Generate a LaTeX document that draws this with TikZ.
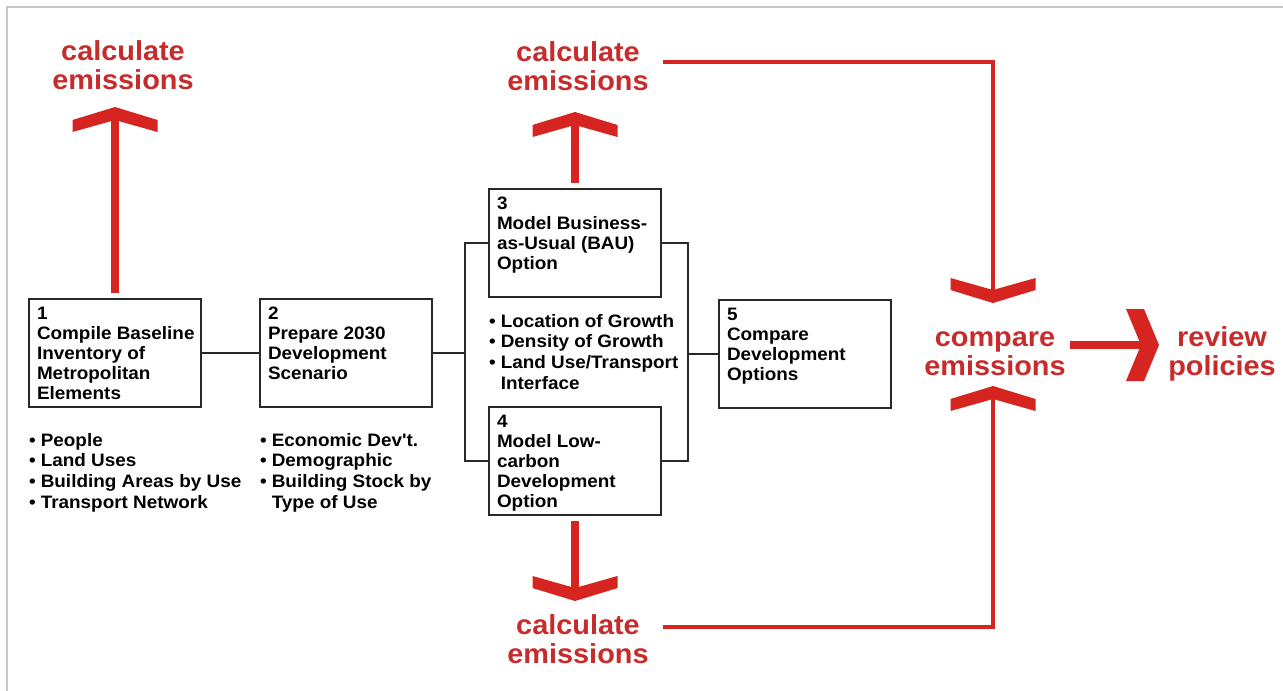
\documentclass[tikz,border=0pt]{standalone}
\usepackage{fontspec}
\newfontfamily\dfont{Liberation Sans}[FakeStretch=1.05]
\definecolor{arrowred}{RGB}{214,36,32}
\definecolor{textred}{RGB}{198,44,44}
\definecolor{boxline}{RGB}{40,40,40}
\definecolor{framegray}{RGB}{200,200,200}
\newcommand\bline[1]{\hbox to 156pt{#1\hss}}
\newcommand\boxcontent[1]{\vtop to 92pt{#1\vss}}
\newcommand\twolines[2]{\vtop{\hbox to 170pt{\hss#1\hss}\hbox to 170pt{\hss#2\hss}}}
\newcommand\bitem[1]{\hbox{\textbullet\kern 5pt #1}}
\newcommand\bcont[1]{\hbox{\phantom{\textbullet\kern 5pt}#1}}
\tikzset{
  box/.style={draw=boxline, line width=2pt, anchor=north west, outer sep=0pt, inner xsep=8pt, inner ysep=8pt, fill=white,
    font=\dfont\bfseries\fontsize{18}{20}\selectfont},
  link/.style={draw=boxline, line width=1.4pt},
  redline/.style={draw=arrowred, line width=4pt},
  shaft/.style={draw=arrowred, line width=8pt},
  lbl/.style={text=textred, anchor=base, inner sep=0pt,
    font=\dfont\bfseries\fontsize{27.5}{29}\selectfont},
  bul/.style={anchor=base west, inner sep=0pt,
    font=\dfont\bfseries\fontsize{18}{20.8}\selectfont},
  chevup/.pic={\fill[arrowred] (0,0) -- (42.5,13) -- (42.5,25) -- (0,13) -- (-42.5,25) -- (-42.5,13) -- cycle;},
  chevdown/.pic={\fill[arrowred] (0,0) -- (42.5,-13) -- (42.5,-25) -- (0,-13) -- (-42.5,-25) -- (-42.5,-13) -- cycle;},
  chevright/.pic={\fill[arrowred] (0,0) -- (-15,-36) -- (-33,-36) -- (-18,0) -- (-33,36) -- (-15,36) -- cycle;}
}
\begin{document}
\begin{tikzpicture}[x=1pt,y=-1pt]
\useasboundingbox (0,0) rectangle (1283,691);
\fill[white] (0,0) rectangle (1283,691);
\draw[framegray, line width=2pt] (7,691) -- (7,7) -- (1283,7);

% boxes
\node[box] (b1) at (29,299) {\boxcontent{\bline{1}\bline{Compile Baseline}\bline{Inventory of}\bline{Metropolitan}\bline{Elements}}};
\node[box] (b2) at (260,299) {\boxcontent{\bline{2}\bline{Prepare 2030}\bline{Development}\bline{Scenario}}};
\node[box] (b3) at (489,189) {\boxcontent{\bline{3}\bline{Model Business-}\bline{as-Usual (BAU)}\bline{Option}}};
\node[box] (b4) at (489,407) {\boxcontent{\bline{4}\bline{Model Low-}\bline{carbon}\bline{Development}\bline{Option}}};
\node[box] (b5) at (719,300) {\boxcontent{\bline{5}\bline{Compare}\bline{Development}\bline{Options}}};

% bullet lists
\node[bul] (l1) at (29,446) {\vtop{\bitem{People}\bitem{Land Uses}\bitem{Building Areas by Use}\bitem{Transport Network}}};
\node[bul] (l2) at (260,446) {\vtop{\bitem{Economic Dev't.}\bitem{Demographic}\bitem{Building Stock by}\bcont{Type of Use}}};
\node[bul] (l3) at (489,327) {\vtop{\bitem{Location of Growth}\bitem{Density of Growth}\bitem{Land Use/Transport}\bcont{Interface}}};

% connectors
\draw[link] (b1.east) -- (b2.west);
\draw[link] (b2.east) -- ++(33,0) coordinate (jl);
\draw[link] (b3.west) -| (jl) |- (b4.west);
\draw[link] (b5.west) -- ++(-31,0) coordinate (jr);
\draw[link] (b3.east) -| (jr) |- (b4.east);

% red labels
\node[lbl] (c1) at (123,60) {\twolines{calculate}{emissions}};
\node[lbl] (c2) at (578,61) {\twolines{calculate}{emissions}};
\node[lbl] (c3) at (578,634) {\twolines{calculate}{emissions}};
\node[lbl] (cmp) at (995,346) {\twolines{compare}{emissions}};
\node[lbl] (rev) at (1222,346) {\twolines{review}{policies}};

% emission arrows
\draw[shaft] ([yshift=6pt]b1.north) -- ++(0,-175);
\pic at ([yshift=192pt]b1.north) {chevup};
\draw[shaft] ([yshift=6pt]b3.north) -- ++(0,-62);
\pic at ([yshift=77pt]b3.north) {chevup};
\draw[shaft] ([yshift=-6pt]b4.south) -- ++(0,68);
\pic at ([yshift=-86pt]b4.south) {chevdown};

% comparison lines
\coordinate (t2) at (663,62);
\coordinate (t3) at (663,627);
\coordinate (cd) at (993,290);
\coordinate (cu) at (993,399);
\draw[redline] (t2) -| (cd);
\pic at (993,303) {chevdown};
\draw[redline] (t3) -| (cu);
\pic at (993,386) {chevup};

% compare -> review
\coordinate (h1) at (1070,345);
\coordinate (h2) at (1146,345);
\draw[shaft] (h1) -- (h2);
\pic at (1159,345) {chevright};
\end{tikzpicture}
\end{document}
